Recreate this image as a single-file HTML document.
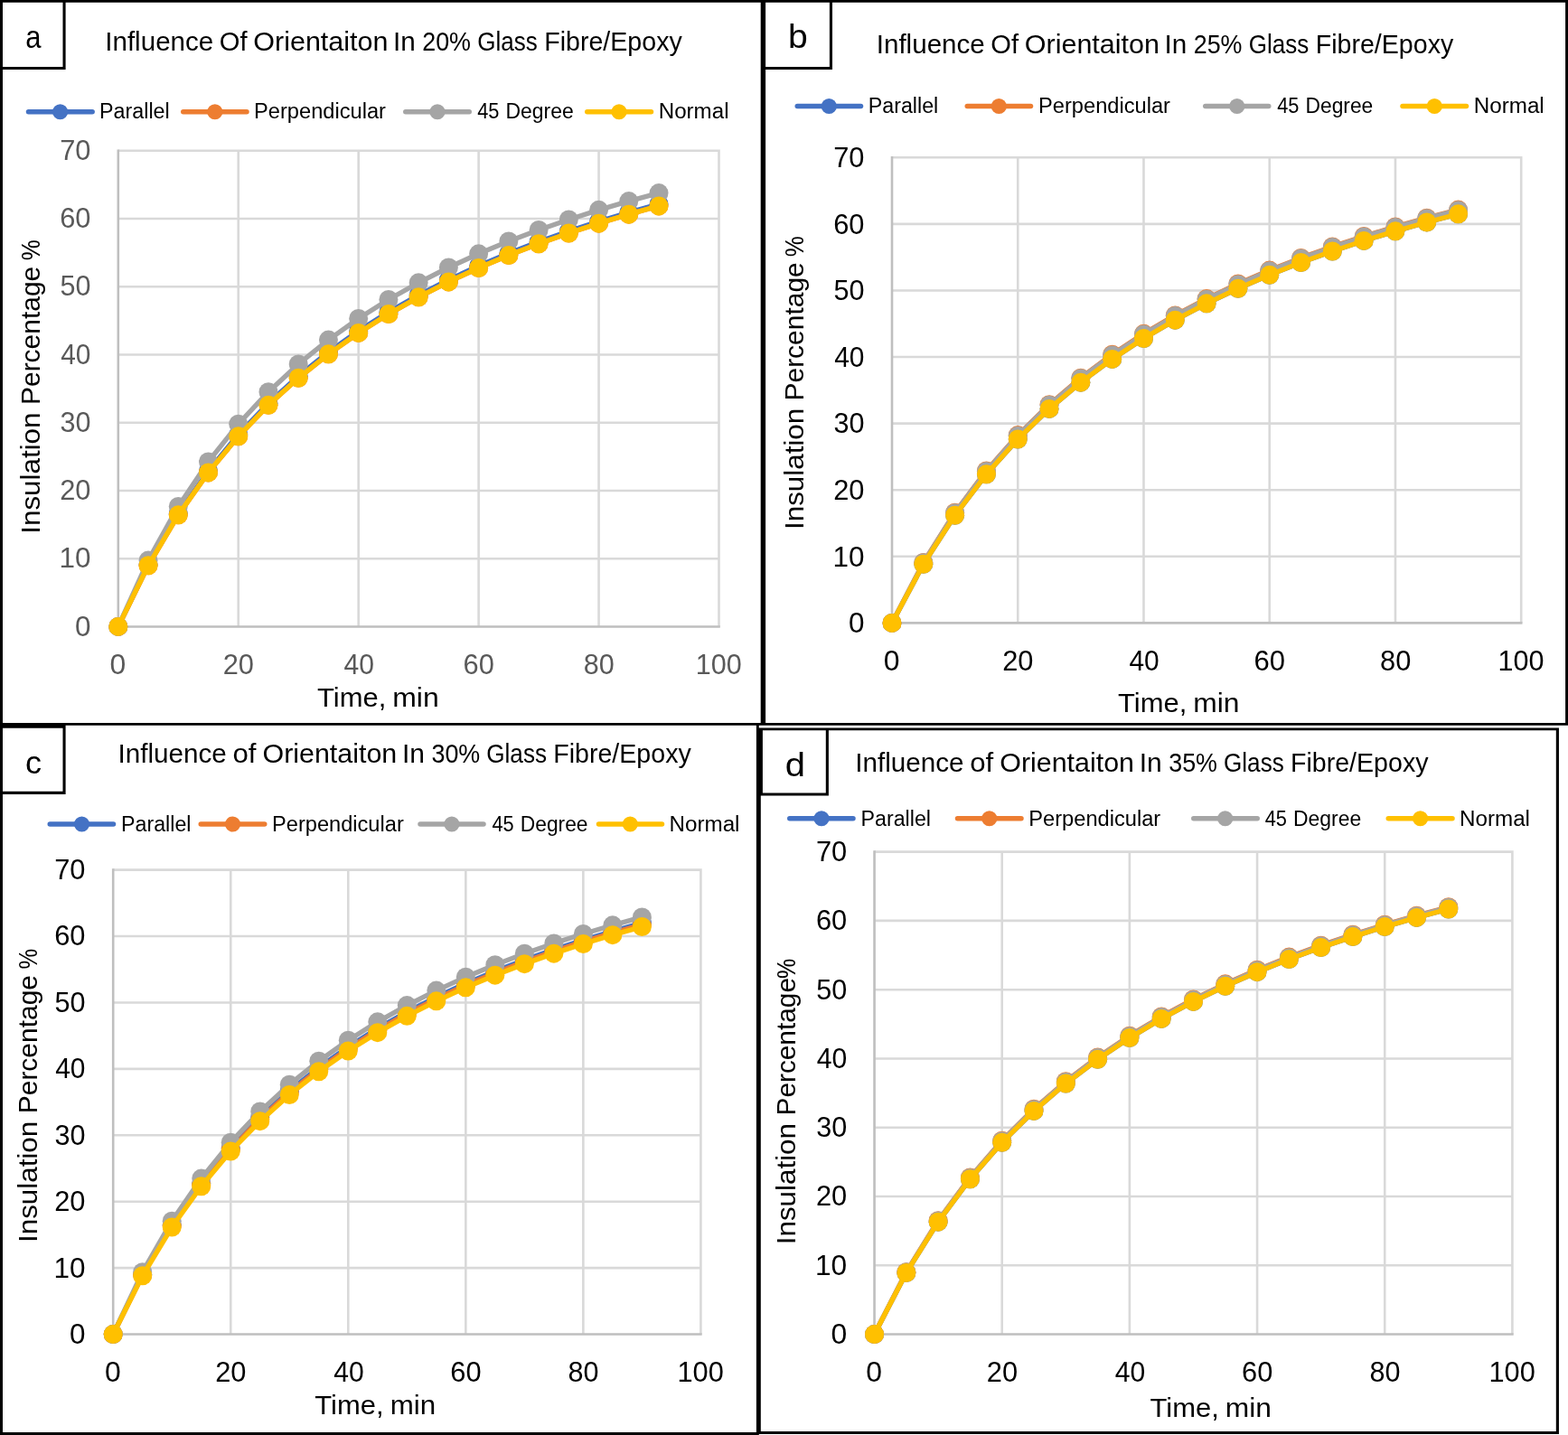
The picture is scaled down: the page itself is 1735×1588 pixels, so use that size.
<!DOCTYPE html>
<html lang="en">
<head>
<meta charset="utf-8">
<title>Influence of Orientation in Glass Fibre/Epoxy</title>
<style>html,body{margin:0;padding:0;background:#fff}svg{display:block}text{white-space:pre}</style>
</head>
<body>
<svg width="1735" height="1588" viewBox="0 0 1735 1588" font-family='"Liberation Sans", sans-serif' role="img" aria-label="Influence of fibre orientation on insulation percentage for 20, 25, 30 and 35 percent glass fibre/epoxy">
<rect width="1735" height="1588" fill="#fff"/>
<g><path d="M130.8 618.21H796.8M130.8 542.96H796.8M130.8 467.72H796.8M130.8 392.48H796.8M130.8 317.24H796.8M130.8 241.99H796.8M130.8 166.75H796.8M263.74 165.45V693.45M396.68 165.45V693.45M529.62 165.45V693.45M662.56 165.45V693.45M795.5 165.45V693.45" stroke="#D9D9D9" stroke-width="2.6" fill="none"/><path d="M130.8 165.45V693.45H796.8" stroke="#BFBFBF" stroke-width="2.6" fill="none"/><g fill="#4472C4" stroke="#4472C4"><path d="M130.8 693.45L164.04 625.01L197.27 568.57L230.5 521.24L263.74 480.97L296.98 446.3L330.21 416.13L363.45 389.63L396.68 366.19L429.92 345.29L463.15 326.54L496.38 309.64L529.62 294.31L562.86 280.35L596.09 267.59L629.33 255.87L662.56 245.07L695.8 235.1L729.03 225.85" fill="none" stroke-width="5.4" stroke-linejoin="round" stroke-linecap="round"/><g stroke="none"><circle cx="130.8" cy="693.45" r="10.5"/><circle cx="164.04" cy="625.01" r="10.5"/><circle cx="197.27" cy="568.57" r="10.5"/><circle cx="230.5" cy="521.24" r="10.5"/><circle cx="263.74" cy="480.97" r="10.5"/><circle cx="296.98" cy="446.3" r="10.5"/><circle cx="330.21" cy="416.13" r="10.5"/><circle cx="363.45" cy="389.63" r="10.5"/><circle cx="396.68" cy="366.19" r="10.5"/><circle cx="429.92" cy="345.29" r="10.5"/><circle cx="463.15" cy="326.54" r="10.5"/><circle cx="496.38" cy="309.64" r="10.5"/><circle cx="529.62" cy="294.31" r="10.5"/><circle cx="562.86" cy="280.35" r="10.5"/><circle cx="596.09" cy="267.59" r="10.5"/><circle cx="629.33" cy="255.87" r="10.5"/><circle cx="662.56" cy="245.07" r="10.5"/><circle cx="695.8" cy="235.1" r="10.5"/><circle cx="729.03" cy="225.85" r="10.5"/></g></g><g fill="#ED7D31" stroke="#ED7D31"><path d="M130.8 693.45L164.04 625.79L197.27 569.87L230.5 522.89L263.74 482.86L296.98 448.34L330.21 418.27L363.45 391.84L396.68 368.43L429.92 347.54L463.15 328.8L496.38 311.88L529.62 296.54L562.86 282.55L596.09 269.76L629.33 258.01L662.56 247.18L695.8 237.17L729.03 227.88" fill="none" stroke-width="5.4" stroke-linejoin="round" stroke-linecap="round"/><g stroke="none"><circle cx="130.8" cy="693.45" r="10.5"/><circle cx="164.04" cy="625.79" r="10.5"/><circle cx="197.27" cy="569.87" r="10.5"/><circle cx="230.5" cy="522.89" r="10.5"/><circle cx="263.74" cy="482.86" r="10.5"/><circle cx="296.98" cy="448.34" r="10.5"/><circle cx="330.21" cy="418.27" r="10.5"/><circle cx="363.45" cy="391.84" r="10.5"/><circle cx="396.68" cy="368.43" r="10.5"/><circle cx="429.92" cy="347.54" r="10.5"/><circle cx="463.15" cy="328.8" r="10.5"/><circle cx="496.38" cy="311.88" r="10.5"/><circle cx="529.62" cy="296.54" r="10.5"/><circle cx="562.86" cy="282.55" r="10.5"/><circle cx="596.09" cy="269.76" r="10.5"/><circle cx="629.33" cy="258.01" r="10.5"/><circle cx="662.56" cy="247.18" r="10.5"/><circle cx="695.8" cy="237.17" r="10.5"/><circle cx="729.03" cy="227.88" r="10.5"/></g></g><g fill="#A5A5A5" stroke="#A5A5A5"><path d="M130.8 693.45L164.04 620.07L197.27 560.4L230.5 510.94L263.74 469.26L296.98 433.67L330.21 402.92L363.45 376.09L396.68 352.47L429.92 331.52L463.15 312.81L496.38 296L529.62 280.81L562.86 267.03L596.09 254.46L629.33 242.95L662.56 232.37L695.8 222.61L729.03 213.59" fill="none" stroke-width="5.4" stroke-linejoin="round" stroke-linecap="round"/><g stroke="none"><circle cx="130.8" cy="693.45" r="10.5"/><circle cx="164.04" cy="620.07" r="10.5"/><circle cx="197.27" cy="560.4" r="10.5"/><circle cx="230.5" cy="510.94" r="10.5"/><circle cx="263.74" cy="469.26" r="10.5"/><circle cx="296.98" cy="433.67" r="10.5"/><circle cx="330.21" cy="402.92" r="10.5"/><circle cx="363.45" cy="376.09" r="10.5"/><circle cx="396.68" cy="352.47" r="10.5"/><circle cx="429.92" cy="331.52" r="10.5"/><circle cx="463.15" cy="312.81" r="10.5"/><circle cx="496.38" cy="296" r="10.5"/><circle cx="529.62" cy="280.81" r="10.5"/><circle cx="562.86" cy="267.03" r="10.5"/><circle cx="596.09" cy="254.46" r="10.5"/><circle cx="629.33" cy="242.95" r="10.5"/><circle cx="662.56" cy="232.37" r="10.5"/><circle cx="695.8" cy="222.61" r="10.5"/><circle cx="729.03" cy="213.59" r="10.5"/></g></g><g fill="#FFC000" stroke="#FFC000"><path d="M130.8 693.45L164.04 625.79L197.27 569.87L230.5 522.89L263.74 482.86L296.98 448.34L330.21 418.27L363.45 391.84L396.68 368.43L429.92 347.54L463.15 328.8L496.38 311.88L529.62 296.54L562.86 282.55L596.09 269.76L629.33 258.01L662.56 247.18L695.8 237.17L729.03 227.88" fill="none" stroke-width="5.4" stroke-linejoin="round" stroke-linecap="round"/><g stroke="none"><circle cx="130.8" cy="693.45" r="10.5"/><circle cx="164.04" cy="625.79" r="10.5"/><circle cx="197.27" cy="569.87" r="10.5"/><circle cx="230.5" cy="522.89" r="10.5"/><circle cx="263.74" cy="482.86" r="10.5"/><circle cx="296.98" cy="448.34" r="10.5"/><circle cx="330.21" cy="418.27" r="10.5"/><circle cx="363.45" cy="391.84" r="10.5"/><circle cx="396.68" cy="368.43" r="10.5"/><circle cx="429.92" cy="347.54" r="10.5"/><circle cx="463.15" cy="328.8" r="10.5"/><circle cx="496.38" cy="311.88" r="10.5"/><circle cx="529.62" cy="296.54" r="10.5"/><circle cx="562.86" cy="282.55" r="10.5"/><circle cx="596.09" cy="269.76" r="10.5"/><circle cx="629.33" cy="258.01" r="10.5"/><circle cx="662.56" cy="247.18" r="10.5"/><circle cx="695.8" cy="237.17" r="10.5"/><circle cx="729.03" cy="227.88" r="10.5"/></g></g><path d="M31.55 123.75H102.1" stroke="#4472C4" stroke-width="5.6" stroke-linecap="round"/><circle cx="66.6" cy="123.75" r="8.6" fill="#4472C4"/><path d="M202.8 123.75H272.95" stroke="#ED7D31" stroke-width="5.6" stroke-linecap="round"/><circle cx="237.8" cy="123.75" r="8.6" fill="#ED7D31"/><path d="M448.8 123.75H519.2" stroke="#A5A5A5" stroke-width="5.6" stroke-linecap="round"/><circle cx="484" cy="123.75" r="8.6" fill="#A5A5A5"/><path d="M649.8 123.75H720.45" stroke="#FFC000" stroke-width="5.6" stroke-linecap="round"/><circle cx="685" cy="123.75" r="8.6" fill="#FFC000"/><text y="53" font-size="34.5" fill="#000"><tspan x="28.25" textLength="17.25" lengthAdjust="spacingAndGlyphs">a</tspan></text><text y="55.6" font-size="29.3" fill="#000"><tspan x="116.25" textLength="120" lengthAdjust="spacingAndGlyphs">Influence</tspan> <tspan x="242.75" textLength="30.75" lengthAdjust="spacingAndGlyphs">Of</tspan> <tspan x="280.25" textLength="149.25" lengthAdjust="spacingAndGlyphs">Orientaiton</tspan> <tspan x="435" textLength="24.75" lengthAdjust="spacingAndGlyphs">In</tspan> <tspan x="467.25" textLength="53.75" lengthAdjust="spacingAndGlyphs">20%</tspan> <tspan x="528.25" textLength="66.5" lengthAdjust="spacingAndGlyphs">Glass</tspan> <tspan x="602.25" textLength="152.5" lengthAdjust="spacingAndGlyphs">Fibre/Epoxy</tspan></text><text y="131.25" font-size="23" fill="#000"><tspan x="110" textLength="77.75" lengthAdjust="spacingAndGlyphs">Parallel</tspan></text><text y="131.25" font-size="23" fill="#000"><tspan x="281" textLength="146" lengthAdjust="spacingAndGlyphs">Perpendicular</tspan></text><text y="131.25" font-size="23" fill="#000"><tspan x="528.25" textLength="24.25" lengthAdjust="spacingAndGlyphs">45</tspan> <tspan x="559.5" textLength="75.25" lengthAdjust="spacingAndGlyphs">Degree</tspan></text><text y="131.25" font-size="23" fill="#000"><tspan x="728.75" textLength="77.75" lengthAdjust="spacingAndGlyphs">Normal</tspan></text><text y="703.65" font-size="30.8" fill="#595959"><tspan x="83" textLength="17.5" lengthAdjust="spacingAndGlyphs">0</tspan></text><text y="628.41" font-size="30.8" fill="#595959"><tspan x="65.5" textLength="35" lengthAdjust="spacingAndGlyphs">10</tspan></text><text y="553.16" font-size="30.8" fill="#595959"><tspan x="66.25" textLength="34.25" lengthAdjust="spacingAndGlyphs">20</tspan></text><text y="477.92" font-size="30.8" fill="#595959"><tspan x="66.5" textLength="34" lengthAdjust="spacingAndGlyphs">30</tspan></text><text y="402.68" font-size="30.8" fill="#595959"><tspan x="67.25" textLength="33.25" lengthAdjust="spacingAndGlyphs">40</tspan></text><text y="327.44" font-size="30.8" fill="#595959"><tspan x="66.5" textLength="34" lengthAdjust="spacingAndGlyphs">50</tspan></text><text y="252.19" font-size="30.8" fill="#595959"><tspan x="66.25" textLength="34.25" lengthAdjust="spacingAndGlyphs">60</tspan></text><text y="176.95" font-size="30.8" fill="#595959"><tspan x="66.25" textLength="34.25" lengthAdjust="spacingAndGlyphs">70</tspan></text><text y="745.75" font-size="30.8" fill="#595959"><tspan x="121.5" textLength="17.75" lengthAdjust="spacingAndGlyphs">0</tspan></text><text y="745.75" font-size="30.8" fill="#595959"><tspan x="246.7" textLength="34.25" lengthAdjust="spacingAndGlyphs">20</tspan></text><text y="745.75" font-size="30.8" fill="#595959"><tspan x="380.4" textLength="33.5" lengthAdjust="spacingAndGlyphs">40</tspan></text><text y="745.75" font-size="30.8" fill="#595959"><tspan x="512.6" textLength="34.25" lengthAdjust="spacingAndGlyphs">60</tspan></text><text y="745.75" font-size="30.8" fill="#595959"><tspan x="645.8" textLength="34" lengthAdjust="spacingAndGlyphs">80</tspan></text><text y="745.75" font-size="30.8" fill="#595959"><tspan x="769.75" textLength="51" lengthAdjust="spacingAndGlyphs">100</tspan></text><text y="781.8" font-size="29.7" fill="#000"><tspan x="351" textLength="76.25" lengthAdjust="spacingAndGlyphs">Time,</tspan> <tspan x="434.25" textLength="51.5" lengthAdjust="spacingAndGlyphs">min</tspan></text><text transform="translate(43.9 587.85) rotate(-90)" font-size="29.7" fill="#000"><tspan x="-2.9" textLength="134.25" lengthAdjust="spacingAndGlyphs">Insulation</tspan> <tspan x="139.85" textLength="153.25" lengthAdjust="spacingAndGlyphs">Percentage</tspan> <tspan x="299.6" textLength="23" lengthAdjust="spacingAndGlyphs">%</tspan></text></g>
<g><path d="M987 615.81H1684.5M987 542.23H1684.5M987 468.64H1684.5M987 395.06H1684.5M987 321.47H1684.5M987 247.89H1684.5M987 174.3H1684.5M1126.24 173V689.4M1265.48 173V689.4M1404.72 173V689.4M1543.96 173V689.4M1683.2 173V689.4" stroke="#D9D9D9" stroke-width="2.6" fill="none"/><path d="M987 173V689.4H1684.5" stroke="#BFBFBF" stroke-width="2.6" fill="none"/><g fill="#4472C4" stroke="#4472C4"><path d="M987 689.4L1021.81 624.27L1056.62 570.28L1091.43 524.81L1126.24 485.97L1161.05 452.43L1195.86 423.16L1230.67 397.4L1265.48 374.56L1300.29 354.15L1335.1 335.82L1369.91 319.27L1404.72 304.24L1439.53 290.53L1474.34 277.98L1509.15 266.45L1543.96 255.81L1578.77 245.98L1613.58 236.85" fill="none" stroke-width="5.4" stroke-linejoin="round" stroke-linecap="round"/><g stroke="none"><circle cx="987" cy="689.4" r="10.5"/><circle cx="1021.81" cy="624.27" r="10.5"/><circle cx="1056.62" cy="570.28" r="10.5"/><circle cx="1091.43" cy="524.81" r="10.5"/><circle cx="1126.24" cy="485.97" r="10.5"/><circle cx="1161.05" cy="452.43" r="10.5"/><circle cx="1195.86" cy="423.16" r="10.5"/><circle cx="1230.67" cy="397.4" r="10.5"/><circle cx="1265.48" cy="374.56" r="10.5"/><circle cx="1300.29" cy="354.15" r="10.5"/><circle cx="1335.1" cy="335.82" r="10.5"/><circle cx="1369.91" cy="319.27" r="10.5"/><circle cx="1404.72" cy="304.24" r="10.5"/><circle cx="1439.53" cy="290.53" r="10.5"/><circle cx="1474.34" cy="277.98" r="10.5"/><circle cx="1509.15" cy="266.45" r="10.5"/><circle cx="1543.96" cy="255.81" r="10.5"/><circle cx="1578.77" cy="245.98" r="10.5"/><circle cx="1613.58" cy="236.85" r="10.5"/></g></g><g fill="#ED7D31" stroke="#ED7D31"><path d="M987 689.4L1021.81 622.47L1056.62 567.27L1091.43 520.98L1126.24 481.6L1161.05 447.69L1195.86 418.18L1230.67 392.28L1265.48 369.34L1300.29 348.91L1335.1 330.57L1369.91 314.04L1404.72 299.05L1439.53 285.4L1474.34 272.92L1509.15 261.46L1543.96 250.9L1578.77 241.14L1613.58 232.09" fill="none" stroke-width="5.4" stroke-linejoin="round" stroke-linecap="round"/><g stroke="none"><circle cx="987" cy="689.4" r="10.5"/><circle cx="1021.81" cy="622.47" r="10.5"/><circle cx="1056.62" cy="567.27" r="10.5"/><circle cx="1091.43" cy="520.98" r="10.5"/><circle cx="1126.24" cy="481.6" r="10.5"/><circle cx="1161.05" cy="447.69" r="10.5"/><circle cx="1195.86" cy="418.18" r="10.5"/><circle cx="1230.67" cy="392.28" r="10.5"/><circle cx="1265.48" cy="369.34" r="10.5"/><circle cx="1300.29" cy="348.91" r="10.5"/><circle cx="1335.1" cy="330.57" r="10.5"/><circle cx="1369.91" cy="314.04" r="10.5"/><circle cx="1404.72" cy="299.05" r="10.5"/><circle cx="1439.53" cy="285.4" r="10.5"/><circle cx="1474.34" cy="272.92" r="10.5"/><circle cx="1509.15" cy="261.46" r="10.5"/><circle cx="1543.96" cy="250.9" r="10.5"/><circle cx="1578.77" cy="241.14" r="10.5"/><circle cx="1613.58" cy="232.09" r="10.5"/></g></g><g fill="#A5A5A5" stroke="#A5A5A5"><path d="M987 689.4L1021.81 622.68L1056.62 567.64L1091.43 521.44L1126.24 482.13L1161.05 448.26L1195.86 418.78L1230.67 392.89L1265.48 369.97L1300.29 349.53L1335.1 331.2L1369.91 314.67L1404.72 299.67L1439.53 286.01L1474.34 273.52L1509.15 262.05L1543.96 251.48L1578.77 241.72L1613.58 232.66" fill="none" stroke-width="5.4" stroke-linejoin="round" stroke-linecap="round"/><g stroke="none"><circle cx="987" cy="689.4" r="10.5"/><circle cx="1021.81" cy="622.68" r="10.5"/><circle cx="1056.62" cy="567.64" r="10.5"/><circle cx="1091.43" cy="521.44" r="10.5"/><circle cx="1126.24" cy="482.13" r="10.5"/><circle cx="1161.05" cy="448.26" r="10.5"/><circle cx="1195.86" cy="418.78" r="10.5"/><circle cx="1230.67" cy="392.89" r="10.5"/><circle cx="1265.48" cy="369.97" r="10.5"/><circle cx="1300.29" cy="349.53" r="10.5"/><circle cx="1335.1" cy="331.2" r="10.5"/><circle cx="1369.91" cy="314.67" r="10.5"/><circle cx="1404.72" cy="299.67" r="10.5"/><circle cx="1439.53" cy="286.01" r="10.5"/><circle cx="1474.34" cy="273.52" r="10.5"/><circle cx="1509.15" cy="262.05" r="10.5"/><circle cx="1543.96" cy="251.48" r="10.5"/><circle cx="1578.77" cy="241.72" r="10.5"/><circle cx="1613.58" cy="232.66" r="10.5"/></g></g><g fill="#FFC000" stroke="#FFC000"><path d="M987 689.4L1021.81 624.27L1056.62 570.28L1091.43 524.81L1126.24 485.97L1161.05 452.43L1195.86 423.16L1230.67 397.4L1265.48 374.56L1300.29 354.15L1335.1 335.82L1369.91 319.27L1404.72 304.24L1439.53 290.53L1474.34 277.98L1509.15 266.45L1543.96 255.81L1578.77 245.98L1613.58 236.85" fill="none" stroke-width="5.4" stroke-linejoin="round" stroke-linecap="round"/><g stroke="none"><circle cx="987" cy="689.4" r="10.5"/><circle cx="1021.81" cy="624.27" r="10.5"/><circle cx="1056.62" cy="570.28" r="10.5"/><circle cx="1091.43" cy="524.81" r="10.5"/><circle cx="1126.24" cy="485.97" r="10.5"/><circle cx="1161.05" cy="452.43" r="10.5"/><circle cx="1195.86" cy="423.16" r="10.5"/><circle cx="1230.67" cy="397.4" r="10.5"/><circle cx="1265.48" cy="374.56" r="10.5"/><circle cx="1300.29" cy="354.15" r="10.5"/><circle cx="1335.1" cy="335.82" r="10.5"/><circle cx="1369.91" cy="319.27" r="10.5"/><circle cx="1404.72" cy="304.24" r="10.5"/><circle cx="1439.53" cy="290.53" r="10.5"/><circle cx="1474.34" cy="277.98" r="10.5"/><circle cx="1509.15" cy="266.45" r="10.5"/><circle cx="1543.96" cy="255.81" r="10.5"/><circle cx="1578.77" cy="245.98" r="10.5"/><circle cx="1613.58" cy="236.85" r="10.5"/></g></g><path d="M882.3 117.5H952.45" stroke="#4472C4" stroke-width="5.6" stroke-linecap="round"/><circle cx="917.3" cy="117.5" r="8.6" fill="#4472C4"/><path d="M1070.3 117.5H1140.45" stroke="#ED7D31" stroke-width="5.6" stroke-linecap="round"/><circle cx="1105.3" cy="117.5" r="8.6" fill="#ED7D31"/><path d="M1333.8 117.5H1403.7" stroke="#A5A5A5" stroke-width="5.6" stroke-linecap="round"/><circle cx="1368.75" cy="117.5" r="8.6" fill="#A5A5A5"/><path d="M1552.05 117.5H1622.45" stroke="#FFC000" stroke-width="5.6" stroke-linecap="round"/><circle cx="1587.25" cy="117.5" r="8.6" fill="#FFC000"/><text y="53" font-size="37.5" fill="#000"><tspan x="872" textLength="21.75" lengthAdjust="spacingAndGlyphs">b</tspan></text><text y="59.3" font-size="29.3" fill="#000"><tspan x="969.75" textLength="120" lengthAdjust="spacingAndGlyphs">Influence</tspan> <tspan x="1096.25" textLength="30.75" lengthAdjust="spacingAndGlyphs">Of</tspan> <tspan x="1133.75" textLength="149.25" lengthAdjust="spacingAndGlyphs">Orientaiton</tspan> <tspan x="1288.5" textLength="24.75" lengthAdjust="spacingAndGlyphs">In</tspan> <tspan x="1320.75" textLength="53.75" lengthAdjust="spacingAndGlyphs">25%</tspan> <tspan x="1381.75" textLength="66.5" lengthAdjust="spacingAndGlyphs">Glass</tspan> <tspan x="1455.75" textLength="152.5" lengthAdjust="spacingAndGlyphs">Fibre/Epoxy</tspan></text><text y="125" font-size="23" fill="#000"><tspan x="960.75" textLength="77.5" lengthAdjust="spacingAndGlyphs">Parallel</tspan></text><text y="125" font-size="23" fill="#000"><tspan x="1149" textLength="146" lengthAdjust="spacingAndGlyphs">Perpendicular</tspan></text><text y="125" font-size="23" fill="#000"><tspan x="1413.25" textLength="24.25" lengthAdjust="spacingAndGlyphs">45</tspan> <tspan x="1444.5" textLength="74.75" lengthAdjust="spacingAndGlyphs">Degree</tspan></text><text y="125" font-size="23" fill="#000"><tspan x="1630.75" textLength="78" lengthAdjust="spacingAndGlyphs">Normal</tspan></text><text y="700.1" font-size="30.8" fill="#000"><tspan x="939" textLength="17.5" lengthAdjust="spacingAndGlyphs">0</tspan></text><text y="626.51" font-size="30.8" fill="#000"><tspan x="921.5" textLength="35" lengthAdjust="spacingAndGlyphs">10</tspan></text><text y="552.93" font-size="30.8" fill="#000"><tspan x="922.25" textLength="34.25" lengthAdjust="spacingAndGlyphs">20</tspan></text><text y="479.34" font-size="30.8" fill="#000"><tspan x="922.5" textLength="34" lengthAdjust="spacingAndGlyphs">30</tspan></text><text y="405.76" font-size="30.8" fill="#000"><tspan x="923.25" textLength="33.25" lengthAdjust="spacingAndGlyphs">40</tspan></text><text y="332.17" font-size="30.8" fill="#000"><tspan x="922.5" textLength="34" lengthAdjust="spacingAndGlyphs">50</tspan></text><text y="258.59" font-size="30.8" fill="#000"><tspan x="922.25" textLength="34.25" lengthAdjust="spacingAndGlyphs">60</tspan></text><text y="185" font-size="30.8" fill="#000"><tspan x="922.25" textLength="34.25" lengthAdjust="spacingAndGlyphs">70</tspan></text><text y="742" font-size="30.8" fill="#000"><tspan x="977.75" textLength="17.75" lengthAdjust="spacingAndGlyphs">0</tspan></text><text y="742" font-size="30.8" fill="#000"><tspan x="1109.2" textLength="34.25" lengthAdjust="spacingAndGlyphs">20</tspan></text><text y="742" font-size="30.8" fill="#000"><tspan x="1249.4" textLength="33.25" lengthAdjust="spacingAndGlyphs">40</tspan></text><text y="742" font-size="30.8" fill="#000"><tspan x="1387.6" textLength="34.5" lengthAdjust="spacingAndGlyphs">60</tspan></text><text y="742" font-size="30.8" fill="#000"><tspan x="1527.05" textLength="34.25" lengthAdjust="spacingAndGlyphs">80</tspan></text><text y="742" font-size="30.8" fill="#000"><tspan x="1657.5" textLength="51" lengthAdjust="spacingAndGlyphs">100</tspan></text><text y="788.1" font-size="29.7" fill="#000"><tspan x="1237" textLength="76.25" lengthAdjust="spacingAndGlyphs">Time,</tspan> <tspan x="1320.25" textLength="51.25" lengthAdjust="spacingAndGlyphs">min</tspan></text><text transform="translate(888.8 583.15) rotate(-90)" font-size="29.7" fill="#000"><tspan x="-2.85" textLength="134.25" lengthAdjust="spacingAndGlyphs">Insulation</tspan> <tspan x="139.65" textLength="153.25" lengthAdjust="spacingAndGlyphs">Percentage</tspan> <tspan x="298.9" textLength="23" lengthAdjust="spacingAndGlyphs">%</tspan></text></g>
<g><path d="M125.2 1403.14H776.7M125.2 1329.72H776.7M125.2 1256.31H776.7M125.2 1182.89H776.7M125.2 1109.48H776.7M125.2 1036.06H776.7M125.2 962.65H776.7M255.24 961.35V1476.55M385.28 961.35V1476.55M515.32 961.35V1476.55M645.36 961.35V1476.55M775.4 961.35V1476.55" stroke="#D9D9D9" stroke-width="2.6" fill="none"/><path d="M125.2 961.35V1476.55H776.7" stroke="#BFBFBF" stroke-width="2.6" fill="none"/><g fill="#4472C4" stroke="#4472C4"><path d="M125.2 1476.55L157.71 1410.22L190.22 1355.45L222.73 1309.47L255.24 1270.31L287.75 1236.57L320.26 1207.19L352.77 1181.38L385.28 1158.52L417.79 1138.14L450.3 1119.85L482.81 1103.35L515.32 1088.38L547.83 1074.75L580.34 1062.28L612.85 1050.83L645.36 1040.27L677.87 1030.52L710.38 1021.47" fill="none" stroke-width="5.4" stroke-linejoin="round" stroke-linecap="round"/><g stroke="none"><circle cx="125.2" cy="1476.55" r="10.5"/><circle cx="157.71" cy="1410.22" r="10.5"/><circle cx="190.22" cy="1355.45" r="10.5"/><circle cx="222.73" cy="1309.47" r="10.5"/><circle cx="255.24" cy="1270.31" r="10.5"/><circle cx="287.75" cy="1236.57" r="10.5"/><circle cx="320.26" cy="1207.19" r="10.5"/><circle cx="352.77" cy="1181.38" r="10.5"/><circle cx="385.28" cy="1158.52" r="10.5"/><circle cx="417.79" cy="1138.14" r="10.5"/><circle cx="450.3" cy="1119.85" r="10.5"/><circle cx="482.81" cy="1103.35" r="10.5"/><circle cx="515.32" cy="1088.38" r="10.5"/><circle cx="547.83" cy="1074.75" r="10.5"/><circle cx="580.34" cy="1062.28" r="10.5"/><circle cx="612.85" cy="1050.83" r="10.5"/><circle cx="645.36" cy="1040.27" r="10.5"/><circle cx="677.87" cy="1030.52" r="10.5"/><circle cx="710.38" cy="1021.47" r="10.5"/></g></g><g fill="#ED7D31" stroke="#ED7D31"><path d="M125.2 1476.55L157.71 1410.91L190.22 1356.6L222.73 1310.93L255.24 1271.98L287.75 1238.38L320.26 1209.09L352.77 1183.34L385.28 1160.51L417.79 1140.14L450.3 1121.85L482.81 1105.34L515.32 1090.36L547.83 1076.71L580.34 1064.21L612.85 1052.73L645.36 1042.15L677.87 1032.36L710.38 1023.29" fill="none" stroke-width="5.4" stroke-linejoin="round" stroke-linecap="round"/><g stroke="none"><circle cx="125.2" cy="1476.55" r="10.5"/><circle cx="157.71" cy="1410.91" r="10.5"/><circle cx="190.22" cy="1356.6" r="10.5"/><circle cx="222.73" cy="1310.93" r="10.5"/><circle cx="255.24" cy="1271.98" r="10.5"/><circle cx="287.75" cy="1238.38" r="10.5"/><circle cx="320.26" cy="1209.09" r="10.5"/><circle cx="352.77" cy="1183.34" r="10.5"/><circle cx="385.28" cy="1160.51" r="10.5"/><circle cx="417.79" cy="1140.14" r="10.5"/><circle cx="450.3" cy="1121.85" r="10.5"/><circle cx="482.81" cy="1105.34" r="10.5"/><circle cx="515.32" cy="1090.36" r="10.5"/><circle cx="547.83" cy="1076.71" r="10.5"/><circle cx="580.34" cy="1064.21" r="10.5"/><circle cx="612.85" cy="1052.73" r="10.5"/><circle cx="645.36" cy="1042.15" r="10.5"/><circle cx="677.87" cy="1032.36" r="10.5"/><circle cx="710.38" cy="1023.29" r="10.5"/></g></g><g fill="#A5A5A5" stroke="#A5A5A5"><path d="M125.2 1476.55L157.71 1407.65L190.22 1351.19L222.73 1304.08L255.24 1264.16L287.75 1229.92L320.26 1200.22L352.77 1174.22L385.28 1151.26L417.79 1130.84L450.3 1112.56L482.81 1096.1L515.32 1081.2L547.83 1067.65L580.34 1055.28L612.85 1043.93L645.36 1033.49L677.87 1023.85L710.38 1014.92" fill="none" stroke-width="5.4" stroke-linejoin="round" stroke-linecap="round"/><g stroke="none"><circle cx="125.2" cy="1476.55" r="10.5"/><circle cx="157.71" cy="1407.65" r="10.5"/><circle cx="190.22" cy="1351.19" r="10.5"/><circle cx="222.73" cy="1304.08" r="10.5"/><circle cx="255.24" cy="1264.16" r="10.5"/><circle cx="287.75" cy="1229.92" r="10.5"/><circle cx="320.26" cy="1200.22" r="10.5"/><circle cx="352.77" cy="1174.22" r="10.5"/><circle cx="385.28" cy="1151.26" r="10.5"/><circle cx="417.79" cy="1130.84" r="10.5"/><circle cx="450.3" cy="1112.56" r="10.5"/><circle cx="482.81" cy="1096.1" r="10.5"/><circle cx="515.32" cy="1081.2" r="10.5"/><circle cx="547.83" cy="1067.65" r="10.5"/><circle cx="580.34" cy="1055.28" r="10.5"/><circle cx="612.85" cy="1043.93" r="10.5"/><circle cx="645.36" cy="1033.49" r="10.5"/><circle cx="677.87" cy="1023.85" r="10.5"/><circle cx="710.38" cy="1014.92" r="10.5"/></g></g><g fill="#FFC000" stroke="#FFC000"><path d="M125.2 1476.55L157.71 1411.76L190.22 1358.03L222.73 1312.75L255.24 1274.07L287.75 1240.65L320.26 1211.47L352.77 1185.79L385.28 1163.01L417.79 1142.66L450.3 1124.37L482.81 1107.85L515.32 1092.85L547.83 1079.17L580.34 1066.64L612.85 1055.13L645.36 1044.51L677.87 1034.69L710.38 1025.58" fill="none" stroke-width="5.4" stroke-linejoin="round" stroke-linecap="round"/><g stroke="none"><circle cx="125.2" cy="1476.55" r="10.5"/><circle cx="157.71" cy="1411.76" r="10.5"/><circle cx="190.22" cy="1358.03" r="10.5"/><circle cx="222.73" cy="1312.75" r="10.5"/><circle cx="255.24" cy="1274.07" r="10.5"/><circle cx="287.75" cy="1240.65" r="10.5"/><circle cx="320.26" cy="1211.47" r="10.5"/><circle cx="352.77" cy="1185.79" r="10.5"/><circle cx="385.28" cy="1163.01" r="10.5"/><circle cx="417.79" cy="1142.66" r="10.5"/><circle cx="450.3" cy="1124.37" r="10.5"/><circle cx="482.81" cy="1107.85" r="10.5"/><circle cx="515.32" cy="1092.85" r="10.5"/><circle cx="547.83" cy="1079.17" r="10.5"/><circle cx="580.34" cy="1066.64" r="10.5"/><circle cx="612.85" cy="1055.13" r="10.5"/><circle cx="645.36" cy="1044.51" r="10.5"/><circle cx="677.87" cy="1034.69" r="10.5"/><circle cx="710.38" cy="1025.58" r="10.5"/></g></g><path d="M55.3 912H125.45" stroke="#4472C4" stroke-width="5.6" stroke-linecap="round"/><circle cx="90.5" cy="912" r="8.6" fill="#4472C4"/><path d="M222.3 912H292.7" stroke="#ED7D31" stroke-width="5.6" stroke-linecap="round"/><circle cx="257.5" cy="912" r="8.6" fill="#ED7D31"/><path d="M465.05 912H534.95" stroke="#A5A5A5" stroke-width="5.6" stroke-linecap="round"/><circle cx="499.9" cy="912" r="8.6" fill="#A5A5A5"/><path d="M662.55 912H732.45" stroke="#FFC000" stroke-width="5.6" stroke-linecap="round"/><circle cx="697.3" cy="912" r="8.6" fill="#FFC000"/><text y="856" font-size="34.5" fill="#000"><tspan x="28" textLength="18" lengthAdjust="spacingAndGlyphs">c</tspan></text><text y="844" font-size="29.3" fill="#000"><tspan x="130.5" textLength="120.25" lengthAdjust="spacingAndGlyphs">Influence</tspan> <tspan x="257.5" textLength="26" lengthAdjust="spacingAndGlyphs">of</tspan> <tspan x="290.5" textLength="148.75" lengthAdjust="spacingAndGlyphs">Orientaiton</tspan> <tspan x="445" textLength="25" lengthAdjust="spacingAndGlyphs">In</tspan> <tspan x="477.5" textLength="53.75" lengthAdjust="spacingAndGlyphs">30%</tspan> <tspan x="538.25" textLength="66.75" lengthAdjust="spacingAndGlyphs">Glass</tspan> <tspan x="612.25" textLength="152.5" lengthAdjust="spacingAndGlyphs">Fibre/Epoxy</tspan></text><text y="919.5" font-size="23" fill="#000"><tspan x="134" textLength="77.5" lengthAdjust="spacingAndGlyphs">Parallel</tspan></text><text y="919.5" font-size="23" fill="#000"><tspan x="301" textLength="145.75" lengthAdjust="spacingAndGlyphs">Perpendicular</tspan></text><text y="919.5" font-size="23" fill="#000"><tspan x="544.5" textLength="24.25" lengthAdjust="spacingAndGlyphs">45</tspan> <tspan x="575.75" textLength="74.75" lengthAdjust="spacingAndGlyphs">Degree</tspan></text><text y="919.5" font-size="23" fill="#000"><tspan x="740.5" textLength="78" lengthAdjust="spacingAndGlyphs">Normal</tspan></text><text y="1486.95" font-size="30.8" fill="#000"><tspan x="77" textLength="17.5" lengthAdjust="spacingAndGlyphs">0</tspan></text><text y="1413.54" font-size="30.8" fill="#000"><tspan x="59.5" textLength="35" lengthAdjust="spacingAndGlyphs">10</tspan></text><text y="1340.12" font-size="30.8" fill="#000"><tspan x="60.25" textLength="34.25" lengthAdjust="spacingAndGlyphs">20</tspan></text><text y="1266.71" font-size="30.8" fill="#000"><tspan x="60.5" textLength="34" lengthAdjust="spacingAndGlyphs">30</tspan></text><text y="1193.29" font-size="30.8" fill="#000"><tspan x="61.25" textLength="33.25" lengthAdjust="spacingAndGlyphs">40</tspan></text><text y="1119.88" font-size="30.8" fill="#000"><tspan x="60.5" textLength="34" lengthAdjust="spacingAndGlyphs">50</tspan></text><text y="1046.46" font-size="30.8" fill="#000"><tspan x="60.25" textLength="34.25" lengthAdjust="spacingAndGlyphs">60</tspan></text><text y="973.05" font-size="30.8" fill="#000"><tspan x="60.25" textLength="34.25" lengthAdjust="spacingAndGlyphs">70</tspan></text><text y="1529" font-size="30.8" fill="#000"><tspan x="116" textLength="17.75" lengthAdjust="spacingAndGlyphs">0</tspan></text><text y="1529" font-size="30.8" fill="#000"><tspan x="238.2" textLength="34.25" lengthAdjust="spacingAndGlyphs">20</tspan></text><text y="1529" font-size="30.8" fill="#000"><tspan x="369.15" textLength="33.5" lengthAdjust="spacingAndGlyphs">40</tspan></text><text y="1529" font-size="30.8" fill="#000"><tspan x="498.35" textLength="34.25" lengthAdjust="spacingAndGlyphs">60</tspan></text><text y="1529" font-size="30.8" fill="#000"><tspan x="628.55" textLength="34" lengthAdjust="spacingAndGlyphs">80</tspan></text><text y="1529" font-size="30.8" fill="#000"><tspan x="749.5" textLength="51.25" lengthAdjust="spacingAndGlyphs">100</tspan></text><text y="1565.1" font-size="29.7" fill="#000"><tspan x="348.25" textLength="76.25" lengthAdjust="spacingAndGlyphs">Time,</tspan> <tspan x="431.75" textLength="50.5" lengthAdjust="spacingAndGlyphs">min</tspan></text><text transform="translate(41.4 1372.05) rotate(-90)" font-size="29.7" fill="#000"><tspan x="-2.95" textLength="134.25" lengthAdjust="spacingAndGlyphs">Insulation</tspan> <tspan x="139.8" textLength="153.25" lengthAdjust="spacingAndGlyphs">Percentage</tspan> <tspan x="299.55" textLength="22.75" lengthAdjust="spacingAndGlyphs">%</tspan></text></g>
<g><path d="M967.55 1400.28H1674.7M967.55 1324.01H1674.7M967.55 1247.74H1674.7M967.55 1171.46H1674.7M967.55 1095.19H1674.7M967.55 1018.92H1674.7M967.55 942.65H1674.7M1108.72 941.35V1476.55M1249.89 941.35V1476.55M1391.06 941.35V1476.55M1532.23 941.35V1476.55M1673.4 941.35V1476.55" stroke="#D9D9D9" stroke-width="2.6" fill="none"/><path d="M967.55 941.35V1476.55H1674.7" stroke="#BFBFBF" stroke-width="2.6" fill="none"/><g fill="#4472C4" stroke="#4472C4"><path d="M967.55 1476.55L1002.84 1408.48L1038.13 1352.15L1073.43 1304.76L1108.72 1264.34L1144.01 1229.45L1179.31 1199.04L1214.6 1172.29L1249.89 1148.58L1285.18 1127.42L1320.47 1108.42L1355.77 1091.27L1391.06 1075.7L1426.35 1061.51L1461.64 1048.53L1496.94 1036.59L1532.23 1025.6L1567.52 1015.42L1602.82 1005.99" fill="none" stroke-width="5.4" stroke-linejoin="round" stroke-linecap="round"/><g stroke="none"><circle cx="967.55" cy="1476.55" r="10.5"/><circle cx="1002.84" cy="1408.48" r="10.5"/><circle cx="1038.13" cy="1352.15" r="10.5"/><circle cx="1073.43" cy="1304.76" r="10.5"/><circle cx="1108.72" cy="1264.34" r="10.5"/><circle cx="1144.01" cy="1229.45" r="10.5"/><circle cx="1179.31" cy="1199.04" r="10.5"/><circle cx="1214.6" cy="1172.29" r="10.5"/><circle cx="1249.89" cy="1148.58" r="10.5"/><circle cx="1285.18" cy="1127.42" r="10.5"/><circle cx="1320.47" cy="1108.42" r="10.5"/><circle cx="1355.77" cy="1091.27" r="10.5"/><circle cx="1391.06" cy="1075.7" r="10.5"/><circle cx="1426.35" cy="1061.51" r="10.5"/><circle cx="1461.64" cy="1048.53" r="10.5"/><circle cx="1496.94" cy="1036.59" r="10.5"/><circle cx="1532.23" cy="1025.6" r="10.5"/><circle cx="1567.52" cy="1015.42" r="10.5"/><circle cx="1602.82" cy="1005.99" r="10.5"/></g></g><g fill="#ED7D31" stroke="#ED7D31"><path d="M967.55 1476.55L1002.84 1407.64L1038.13 1350.74L1073.43 1302.97L1108.72 1262.29L1144.01 1227.23L1179.31 1196.71L1214.6 1169.89L1249.89 1146.14L1285.18 1124.97L1320.47 1105.97L1355.77 1088.82L1391.06 1073.27L1426.35 1059.11L1461.64 1046.15L1496.94 1034.26L1532.23 1023.29L1567.52 1013.16L1602.82 1003.76" fill="none" stroke-width="5.4" stroke-linejoin="round" stroke-linecap="round"/><g stroke="none"><circle cx="967.55" cy="1476.55" r="10.5"/><circle cx="1002.84" cy="1407.64" r="10.5"/><circle cx="1038.13" cy="1350.74" r="10.5"/><circle cx="1073.43" cy="1302.97" r="10.5"/><circle cx="1108.72" cy="1262.29" r="10.5"/><circle cx="1144.01" cy="1227.23" r="10.5"/><circle cx="1179.31" cy="1196.71" r="10.5"/><circle cx="1214.6" cy="1169.89" r="10.5"/><circle cx="1249.89" cy="1146.14" r="10.5"/><circle cx="1285.18" cy="1124.97" r="10.5"/><circle cx="1320.47" cy="1105.97" r="10.5"/><circle cx="1355.77" cy="1088.82" r="10.5"/><circle cx="1391.06" cy="1073.27" r="10.5"/><circle cx="1426.35" cy="1059.11" r="10.5"/><circle cx="1461.64" cy="1046.15" r="10.5"/><circle cx="1496.94" cy="1034.26" r="10.5"/><circle cx="1532.23" cy="1023.29" r="10.5"/><circle cx="1567.52" cy="1013.16" r="10.5"/><circle cx="1602.82" cy="1003.76" r="10.5"/></g></g><g fill="#A5A5A5" stroke="#A5A5A5"><path d="M967.55 1476.55L1002.84 1407.83L1038.13 1351.07L1073.43 1303.38L1108.72 1262.76L1144.01 1227.75L1179.31 1197.25L1214.6 1170.45L1249.89 1146.71L1285.18 1125.54L1320.47 1106.54L1355.77 1089.39L1391.06 1073.84L1426.35 1059.67L1461.64 1046.7L1496.94 1034.8L1532.23 1023.83L1567.52 1013.68L1602.82 1004.28" fill="none" stroke-width="5.4" stroke-linejoin="round" stroke-linecap="round"/><g stroke="none"><circle cx="967.55" cy="1476.55" r="10.5"/><circle cx="1002.84" cy="1407.83" r="10.5"/><circle cx="1038.13" cy="1351.07" r="10.5"/><circle cx="1073.43" cy="1303.38" r="10.5"/><circle cx="1108.72" cy="1262.76" r="10.5"/><circle cx="1144.01" cy="1227.75" r="10.5"/><circle cx="1179.31" cy="1197.25" r="10.5"/><circle cx="1214.6" cy="1170.45" r="10.5"/><circle cx="1249.89" cy="1146.71" r="10.5"/><circle cx="1285.18" cy="1125.54" r="10.5"/><circle cx="1320.47" cy="1106.54" r="10.5"/><circle cx="1355.77" cy="1089.39" r="10.5"/><circle cx="1391.06" cy="1073.84" r="10.5"/><circle cx="1426.35" cy="1059.67" r="10.5"/><circle cx="1461.64" cy="1046.7" r="10.5"/><circle cx="1496.94" cy="1034.8" r="10.5"/><circle cx="1532.23" cy="1023.83" r="10.5"/><circle cx="1567.52" cy="1013.68" r="10.5"/><circle cx="1602.82" cy="1004.28" r="10.5"/></g></g><g fill="#FFC000" stroke="#FFC000"><path d="M967.55 1476.55L1002.84 1408.48L1038.13 1352.15L1073.43 1304.76L1108.72 1264.34L1144.01 1229.45L1179.31 1199.04L1214.6 1172.29L1249.89 1148.58L1285.18 1127.42L1320.47 1108.42L1355.77 1091.27L1391.06 1075.7L1426.35 1061.51L1461.64 1048.53L1496.94 1036.59L1532.23 1025.6L1567.52 1015.42L1602.82 1005.99" fill="none" stroke-width="5.4" stroke-linejoin="round" stroke-linecap="round"/><g stroke="none"><circle cx="967.55" cy="1476.55" r="10.5"/><circle cx="1002.84" cy="1408.48" r="10.5"/><circle cx="1038.13" cy="1352.15" r="10.5"/><circle cx="1073.43" cy="1304.76" r="10.5"/><circle cx="1108.72" cy="1264.34" r="10.5"/><circle cx="1144.01" cy="1229.45" r="10.5"/><circle cx="1179.31" cy="1199.04" r="10.5"/><circle cx="1214.6" cy="1172.29" r="10.5"/><circle cx="1249.89" cy="1148.58" r="10.5"/><circle cx="1285.18" cy="1127.42" r="10.5"/><circle cx="1320.47" cy="1108.42" r="10.5"/><circle cx="1355.77" cy="1091.27" r="10.5"/><circle cx="1391.06" cy="1075.7" r="10.5"/><circle cx="1426.35" cy="1061.51" r="10.5"/><circle cx="1461.64" cy="1048.53" r="10.5"/><circle cx="1496.94" cy="1036.59" r="10.5"/><circle cx="1532.23" cy="1025.6" r="10.5"/><circle cx="1567.52" cy="1015.42" r="10.5"/><circle cx="1602.82" cy="1005.99" r="10.5"/></g></g><path d="M873.8 905.75H943.95" stroke="#4472C4" stroke-width="5.6" stroke-linecap="round"/><circle cx="909" cy="905.75" r="8.6" fill="#4472C4"/><path d="M1059.55 905.75H1129.95" stroke="#ED7D31" stroke-width="5.6" stroke-linecap="round"/><circle cx="1094.75" cy="905.75" r="8.6" fill="#ED7D31"/><path d="M1320.8 905.75H1391.2" stroke="#A5A5A5" stroke-width="5.6" stroke-linecap="round"/><circle cx="1355.7" cy="905.75" r="8.6" fill="#A5A5A5"/><path d="M1536.3 905.75H1606.95" stroke="#FFC000" stroke-width="5.6" stroke-linecap="round"/><circle cx="1571.6" cy="905.75" r="8.6" fill="#FFC000"/><text y="859" font-size="37.5" fill="#000"><tspan x="868.75" textLength="22.25" lengthAdjust="spacingAndGlyphs">d</tspan></text><text y="853.5" font-size="29.3" fill="#000"><tspan x="946.25" textLength="120.25" lengthAdjust="spacingAndGlyphs">Influence</tspan> <tspan x="1073.25" textLength="26" lengthAdjust="spacingAndGlyphs">of</tspan> <tspan x="1106.25" textLength="148.75" lengthAdjust="spacingAndGlyphs">Orientaiton</tspan> <tspan x="1260.75" textLength="25" lengthAdjust="spacingAndGlyphs">In</tspan> <tspan x="1293.25" textLength="53.75" lengthAdjust="spacingAndGlyphs">35%</tspan> <tspan x="1354" textLength="66.75" lengthAdjust="spacingAndGlyphs">Glass</tspan> <tspan x="1428" textLength="152.5" lengthAdjust="spacingAndGlyphs">Fibre/Epoxy</tspan></text><text y="913.5" font-size="23" fill="#000"><tspan x="952.5" textLength="77.5" lengthAdjust="spacingAndGlyphs">Parallel</tspan></text><text y="913.5" font-size="23" fill="#000"><tspan x="1138.25" textLength="146" lengthAdjust="spacingAndGlyphs">Perpendicular</tspan></text><text y="913.5" font-size="23" fill="#000"><tspan x="1399.75" textLength="24.25" lengthAdjust="spacingAndGlyphs">45</tspan> <tspan x="1431" textLength="75.25" lengthAdjust="spacingAndGlyphs">Degree</tspan></text><text y="913.5" font-size="23" fill="#000"><tspan x="1615" textLength="78" lengthAdjust="spacingAndGlyphs">Normal</tspan></text><text y="1486.95" font-size="30.8" fill="#000"><tspan x="919.5" textLength="17.75" lengthAdjust="spacingAndGlyphs">0</tspan></text><text y="1410.68" font-size="30.8" fill="#000"><tspan x="902" textLength="35.25" lengthAdjust="spacingAndGlyphs">10</tspan></text><text y="1334.41" font-size="30.8" fill="#000"><tspan x="903" textLength="34.25" lengthAdjust="spacingAndGlyphs">20</tspan></text><text y="1258.14" font-size="30.8" fill="#000"><tspan x="903.25" textLength="34" lengthAdjust="spacingAndGlyphs">30</tspan></text><text y="1181.86" font-size="30.8" fill="#000"><tspan x="903.75" textLength="33.5" lengthAdjust="spacingAndGlyphs">40</tspan></text><text y="1105.59" font-size="30.8" fill="#000"><tspan x="903.25" textLength="34" lengthAdjust="spacingAndGlyphs">50</tspan></text><text y="1029.32" font-size="30.8" fill="#000"><tspan x="903" textLength="34.25" lengthAdjust="spacingAndGlyphs">60</tspan></text><text y="953.05" font-size="30.8" fill="#000"><tspan x="903" textLength="34.25" lengthAdjust="spacingAndGlyphs">70</tspan></text><text y="1529" font-size="30.8" fill="#000"><tspan x="958.25" textLength="17.75" lengthAdjust="spacingAndGlyphs">0</tspan></text><text y="1529" font-size="30.8" fill="#000"><tspan x="1091.85" textLength="34.25" lengthAdjust="spacingAndGlyphs">20</tspan></text><text y="1529" font-size="30.8" fill="#000"><tspan x="1233.7" textLength="33.5" lengthAdjust="spacingAndGlyphs">40</tspan></text><text y="1529" font-size="30.8" fill="#000"><tspan x="1374.05" textLength="34.25" lengthAdjust="spacingAndGlyphs">60</tspan></text><text y="1529" font-size="30.8" fill="#000"><tspan x="1515.4" textLength="34" lengthAdjust="spacingAndGlyphs">80</tspan></text><text y="1529" font-size="30.8" fill="#000"><tspan x="1647.5" textLength="51.25" lengthAdjust="spacingAndGlyphs">100</tspan></text><text y="1567.9" font-size="29.7" fill="#000"><tspan x="1272.5" textLength="76.25" lengthAdjust="spacingAndGlyphs">Time,</tspan> <tspan x="1355.75" textLength="51.25" lengthAdjust="spacingAndGlyphs">min</tspan></text><text transform="translate(879.7 1374.35) rotate(-90)" font-size="29.7" fill="#000"><tspan x="-2.9" textLength="134.25" lengthAdjust="spacingAndGlyphs">Insulation</tspan> <tspan x="139.85" textLength="152.5" lengthAdjust="spacingAndGlyphs">Percentage</tspan><tspan x="291.35" textLength="22.25" lengthAdjust="spacingAndGlyphs">%</tspan></text></g>
<path d="M0 0H1735V2.75H0ZM0 0H3V1588H0ZM841.7 0H847.1V802.85H841.7ZM1732.1 0H1735V802.85H1732.1ZM0 800H1735V802.85H0ZM836.9 800H839.8V1588H836.9ZM0 1584.95H839.8V1588H0ZM838.9 805.6H841.8V1586.9H838.9ZM838.9 805.6H1724.95V808.35H838.9ZM1721.8 805.6H1724.95V1586.9H1721.8ZM838.9 1584H1724.95V1586.9H838.9ZM69.5 0H72.6V77H69.5ZM0 74H72.6V77H0ZM917.9 0H921V77H917.9ZM844 74H921V77H844ZM0 802.8H72.6V805.8H0ZM69.5 802.8H72.6V878.9H69.5ZM0 875.8H72.6V878.9H0ZM840.8 808H843.9V880.6H840.8ZM913.8 808H916.9V880.6H913.8ZM840 877.6H916.9V880.6H840Z" fill="#000"/>
</svg>
</body>
</html>
